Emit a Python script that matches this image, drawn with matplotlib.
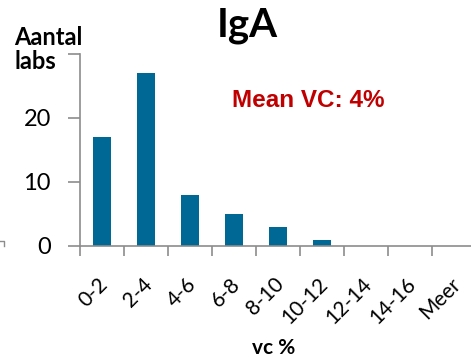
import matplotlib
matplotlib.use('Agg')
import matplotlib.pyplot as plt
from matplotlib.lines import Line2D
from matplotlib.transforms import ScaledTranslation

# the original uses Calibri; Lato is the nearest installed look-alike
plt.rcParams['font.family'] = ['Lato', 'DejaVu Sans']

categories = ['0-2', '2-4', '4-6', '6-8', '8-10', '10-12', '12-14', '14-16', 'Meer']
counts = [17, 27, 8, 5, 3, 1, 0, 0, 0]

W, H = 471, 359
fig = plt.figure(figsize=(W / 100, H / 100), dpi=100)

# axes box in pixel units (right edge runs off the canvas like the original)
x0, x1, ytop, ybot = 80, 476, 54, 246
ax = fig.add_axes([x0 / W, 1 - ybot / H, (x1 - x0) / W, (ybot - ytop) / H])

xpos = range(len(categories))
ax.bar(xpos, counts, width=0.39, color='#006894')

ax.set_xlim(-0.5, len(categories) - 0.5)
ax.set_ylim(0, 30)
ax.set_yticks([0, 10, 20, 30])
ax.set_yticklabels(['0', '10', '20', ''])

ax.set_xticks([i + 0.5 for i in range(-1, len(categories))])
ax.set_xticklabels([])
ax.set_xticks(list(xpos), minor=True)
ax.set_xticklabels(categories, minor=True, rotation=45, ha='right',
                   va='top', rotation_mode='anchor')
ax.tick_params(axis='x', which='minor', length=0, pad=20, labelsize=15)
ax.tick_params(axis='x', which='major', length=7, width=1.2, color='#8c8c8c')
ax.tick_params(axis='y', length=9, width=1.2, color='#8c8c8c', labelsize=17, pad=12)

shift = ScaledTranslation(-4 / 100, 0, fig.dpi_scale_trans)
for lab in ax.get_xticklabels(minor=True):
    lab.set_transform(lab.get_transform() + shift)

for s in ['top', 'right']:
    ax.spines[s].set_visible(False)
for s in ['left', 'bottom']:
    ax.spines[s].set_color('#8c8c8c')
    ax.spines[s].set_linewidth(1.2)

fig.text(247 / W, 1 - 37 / H, 'IgA', ha='center', va='baseline',
         fontsize=29, fontweight='bold')
fig.text(14 / W, 1 - 26 / H, 'Aantal\nlabs', ha='left', va='top',
         fontsize=17, fontweight='bold', linespacing=1.05)
fig.text(232 / W, 1 - 107 / H, 'Mean VC: 4%', ha='left', va='baseline',
         fontsize=17.5, fontweight='bold', color='#c00000',
         family='Liberation Sans')
fig.text(274 / W, 1 - 354 / H, 'vc %', ha='center', va='baseline',
         fontsize=15, fontweight='bold')

# small cut-off mark at the far left edge
fig.add_artist(Line2D([0, 4 / W, 4 / W], [1 - 241 / H, 1 - 241 / H, 1 - 246 / H],
                      color='#8c8c8c', lw=1))

fig.savefig('out.png', dpi=100)
